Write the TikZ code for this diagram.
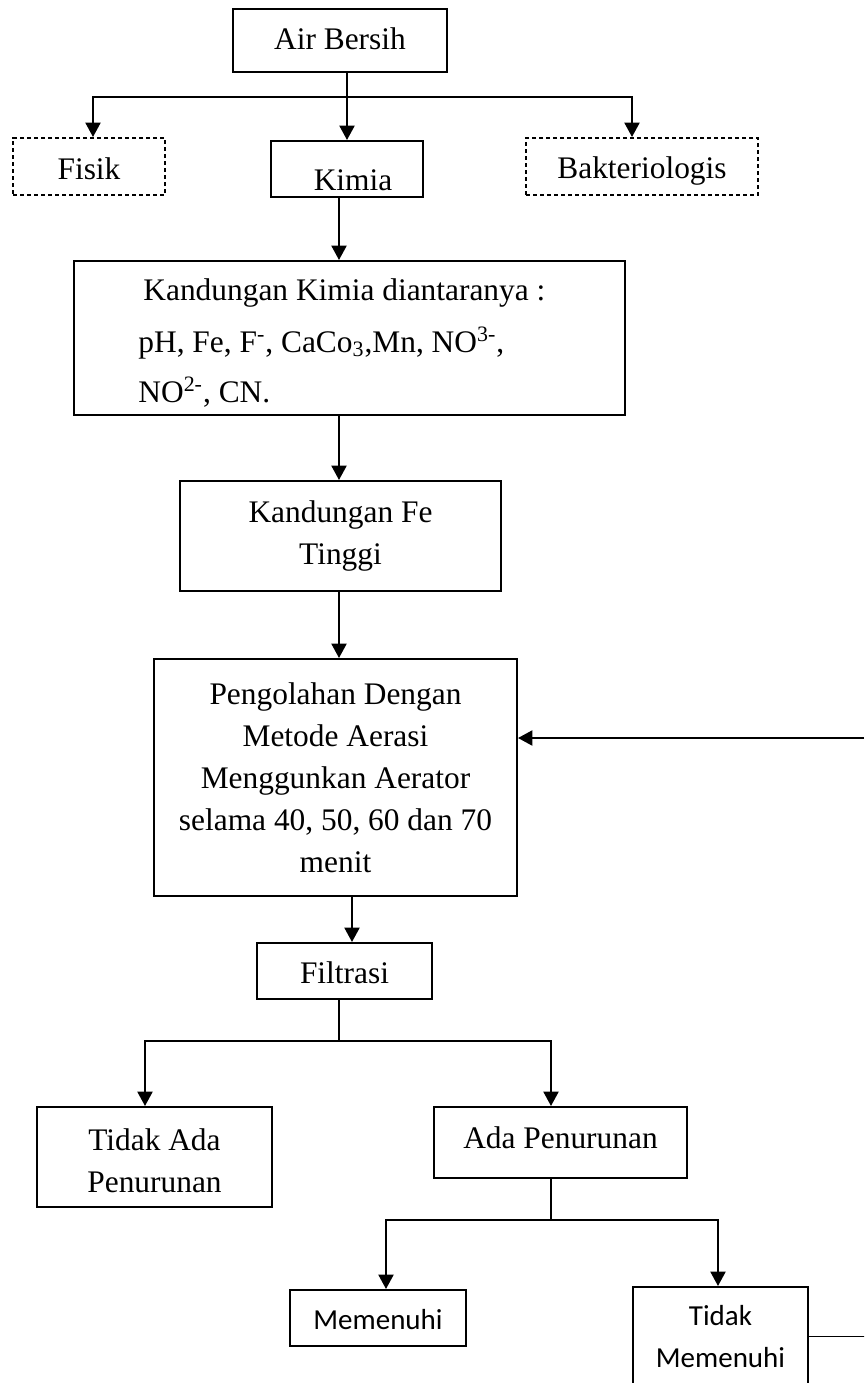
\documentclass[tikz,border=0pt]{standalone}
\usepackage{fontspec}
\setmainfont{Liberation Serif}
\newfontfamily\calfont{Carlito}
\usetikzlibrary{arrows.meta}
\newcommand\tmsz{\fontsize{15.7}{21}\selectfont}
\newcommand\clsz{\calfont\fontsize{14.5}{21}\selectfont}
\begin{document}
\begin{tikzpicture}[x=0.5pt,y=-0.5pt,
  box/.style={draw,line width=1pt,rectangle,inner sep=0pt,align=center,font=\tmsz},
  dbox/.style={box,dash pattern=on 2.2pt off 1.3pt},
  sz/.style 2 args={minimum width=#1*0.5pt,minimum height=#2*0.5pt},
  bl/.style 2 args={text height=#1pt,text depth=#2pt},
  txt/.style={inner sep=0pt,font=\tmsz,anchor=base west},
  arr/.style={line width=1.1pt,-{Triangle[length=7.2pt,width=7.5pt]}},
  ln/.style={line width=0.9pt,line cap=rect},
  thinln/.style={line width=0.7pt}]
\useasboundingbox (0,0) rectangle (864,1383);
\clip (0,0) rectangle (864,1383);
\fill[white] (0,0) rectangle (864,1383);

\node[box,sz={214}{63},bl={16.75}{8.25}] (air) at (340,40.5) {Air Bersih};
\node[dbox,sz={152}{57},bl={18.75}{6.25}] (fisik) at (89,166.5) {Fisik};
\node[box,sz={152}{56},bl={23}{2}] (kimia) at (347,169) {\hspace*{6pt}Kimia};
\node[dbox,sz={232}{57},bl={18.25}{6.75}] (bakt) at (642,166.5) {Bakteriologis};
\node[box,sz={551}{154}] (chem) at (349.5,338) {};
\node[txt] (ch1) at (143,300) {Kandungan Kimia diantaranya :};
\node[txt] (ch2) at (138,352) {pH, Fe, F\textsuperscript{-}, CaCo\textsubscript{3},Mn, NO\textsuperscript{3-},};
\node[txt] (ch3) at (138,402) {NO\textsuperscript{2-}, CN.};
\node[box,sz={321}{110}] (fe) at (340.5,536) {Kandungan Fe\\Tinggi};
\node[box,sz={363}{237}] (olah) at (335.5,777.5)
  {Pengolahan Dengan\\Metode Aerasi\\Menggunkan Aerator\\selama 40, 50, 60 dan 70\\menit};
\node[box,sz={175}{56},bl={18.5}{6.5}] (filt) at (344.5,971) {Filtrasi};
\node[box,sz={235}{100}] (tidakada) at (154.5,1157) {\rule{0pt}{14.7pt}Tidak Ada\\Penurunan};
\node[box,sz={253}{71},bl={15.25}{9.75}] (ada) at (560.5,1142.5) {Ada Penurunan};
\node[box,sz={176}{56},font=\clsz,bl={18}{7}] (memenuhi) at (378,1318) {Memenuhi};
\node[box,sz={175}{99},font=\clsz] (tidakmem) at (720.5,1336.5) {Tidak\\Memenuhi};

\coordinate (busL) at (93,97);
\coordinate (busR) at (632,97);
\coordinate (cA) at (339,0);
\coordinate (cB) at (352,0);
\coordinate (cC) at (145,0);
\coordinate (cD) at (551,0);
\coordinate (cE) at (386,0);
\coordinate (cF) at (718,0);
\coordinate (fb) at (339,1041);
\coordinate (ab) at (551,1220);
\coordinate (edge) at (864,0);
\coordinate (fbk) at (864,738);

\draw[arr] (air.south -| kimia.north) -- (kimia.north);
\draw[ln] (busL) -- (busR);
\draw[arr] (busL) -- (busL |- fisik.north);
\draw[arr] (busR) -- (busR |- bakt.north);
\draw[arr] (kimia.south -| cA) -- (chem.north -| cA);
\draw[arr] (chem.south -| cA) -- (fe.north -| cA);
\draw[arr] (fe.south -| cA) -- (olah.north -| cA);
\draw[arr] (olah.south -| cB) -- (filt.north -| cB);
\draw[thinln] (filt.south -| cA) -- (fb);
\draw[ln] (fb -| cC) -- (fb -| cD);
\draw[arr] (fb -| cC) -- (tidakada.north -| cC);
\draw[arr] (fb -| cD) -- (ada.north -| cD);
\draw[thinln] (ada.south -| cD) -- (ab);
\draw[ln] (ab -| cE) -- (ab -| cF);
\draw[arr] (ab -| cE) -- (memenuhi.north -| cE);
\draw[arr] (ab -| cF) -- (tidakmem.north -| cF);
\draw[ln] (tidakmem.east) -- (tidakmem.east -| edge);
\draw[arr] (fbk) -- (fbk -| olah.east);
\end{tikzpicture}
\end{document}
